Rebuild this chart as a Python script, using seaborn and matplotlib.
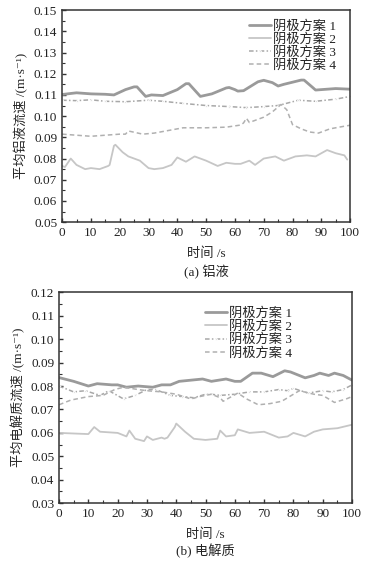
import matplotlib
matplotlib.use("Agg")
import matplotlib.pyplot as plt
import seaborn as sns
from matplotlib.ticker import MultipleLocator, FormatStrFormatter

# (a) 铝液 - average aluminium flow velocity
a1_t = [0, 5, 10, 15, 18, 22, 25, 26, 29, 31, 35, 40, 43, 44, 48, 52, 57, 58, 60, 61, 63, 68, 70, 73, 75, 77, 80, 83, 84, 87, 88, 92, 95, 100]
a1_v = [0.1102, 0.111, 0.1105, 0.1103, 0.110, 0.1125, 0.1138, 0.1138, 0.1093, 0.110, 0.1097, 0.1125, 0.1153, 0.1153, 0.1093, 0.1105, 0.1133, 0.1135, 0.1125, 0.1118, 0.112, 0.1162, 0.1169, 0.1158, 0.1142, 0.115, 0.116, 0.117, 0.117, 0.1135, 0.1123, 0.1127, 0.113, 0.1127]

a2_t = [0, 1, 3, 5, 8, 10, 13, 16, 16.5, 18, 18.5, 21, 23, 27, 30, 32, 35, 38, 40, 43, 46, 50, 54, 57, 60, 62, 65, 67, 70, 74, 77, 81, 85, 88, 92, 95, 98, 99]
a2_v = [0.0765, 0.076, 0.080, 0.077, 0.075, 0.0755, 0.075, 0.0765, 0.077, 0.086, 0.0865, 0.083, 0.081, 0.079, 0.0755, 0.075, 0.0755, 0.077, 0.0805, 0.0785, 0.081, 0.079, 0.0765, 0.078, 0.0775, 0.0775, 0.079, 0.077, 0.080, 0.081, 0.079, 0.081, 0.0815, 0.081, 0.084, 0.0825, 0.0815, 0.0795]

a3_t = [0, 5, 10, 15, 22, 30, 35, 42, 50, 58, 64, 70, 75, 82, 88, 95, 100]
a3_v = [0.1075, 0.1073, 0.1077, 0.107, 0.1068, 0.1075, 0.107, 0.106, 0.105, 0.1045, 0.104, 0.1045, 0.105, 0.1075, 0.107, 0.108, 0.1093]

a4_t = [0, 5, 10, 15, 20, 22, 23, 28, 32, 36, 42, 50, 57, 62, 63, 64, 65, 70, 73, 76, 78, 80, 83, 86, 89, 93, 97, 100]
a4_v = [0.0915, 0.091, 0.0905, 0.091, 0.0915, 0.0915, 0.093, 0.0915, 0.092, 0.093, 0.0945, 0.0945, 0.0948, 0.0958, 0.0968, 0.099, 0.097, 0.0995, 0.102, 0.1055, 0.103, 0.096, 0.094, 0.0925, 0.092, 0.094, 0.095, 0.0957]

# (b) 电解质 - average electrolyte flow velocity
b1_t = [0, 5, 10, 13, 18, 20, 23, 27, 32, 35, 38, 41, 45, 49, 52, 57, 60, 62, 66, 69, 73, 77, 79, 84, 87, 89, 92, 94, 97, 100]
b1_v = [0.0836, 0.082, 0.080, 0.081, 0.0805, 0.0805, 0.0795, 0.080, 0.0795, 0.0805, 0.0805, 0.082, 0.0825, 0.083, 0.082, 0.083, 0.082, 0.082, 0.0855, 0.0855, 0.084, 0.0865, 0.086, 0.0835, 0.0845, 0.0855, 0.0845, 0.0855, 0.0845, 0.0825]

b2_t = [0, 10, 12, 14, 20, 23, 24, 26, 29, 30, 32, 35, 36, 37, 39.5, 40, 43, 46, 50, 54, 55, 57, 60, 61, 65, 70, 75, 78, 80, 84, 87, 90, 95, 100]
b2_v = [0.060, 0.0595, 0.0625, 0.0605, 0.060, 0.0585, 0.061, 0.0575, 0.0565, 0.0585, 0.057, 0.058, 0.0575, 0.058, 0.0625, 0.064, 0.0605, 0.0575, 0.057, 0.0575, 0.061, 0.0585, 0.059, 0.0615, 0.060, 0.0605, 0.058, 0.0585, 0.060, 0.0585, 0.0605, 0.0615, 0.062, 0.0635]

b3_t = [0, 5, 9, 14, 17, 22, 26, 30, 33, 38, 42, 46, 50, 52, 55, 60, 65, 70, 75, 78, 80, 85, 90, 93, 97, 100]
b3_v = [0.080, 0.0775, 0.078, 0.076, 0.078, 0.0745, 0.076, 0.0785, 0.0785, 0.076, 0.0755, 0.075, 0.0765, 0.0765, 0.076, 0.0765, 0.0775, 0.0775, 0.0785, 0.078, 0.079, 0.077, 0.078, 0.0775, 0.0785, 0.0805]

b4_t = [0, 4, 10, 15, 19, 22, 27, 30, 35, 40, 45, 48, 52, 55, 56, 61, 64, 68, 72, 76, 80, 82, 87, 90, 94, 98, 100]
b4_v = [0.072, 0.074, 0.0755, 0.076, 0.0785, 0.0795, 0.0785, 0.078, 0.0775, 0.0765, 0.0745, 0.0755, 0.0765, 0.075, 0.0735, 0.077, 0.0745, 0.072, 0.0725, 0.0735, 0.0765, 0.078, 0.0765, 0.076, 0.073, 0.0745, 0.0755]

labels = ["阴极方案 1", "阴极方案 2", "阴极方案 3", "阴极方案 4"]

sns.set_style("ticks")
plt.rcParams["font.family"] = ["Liberation Serif", "Noto Sans CJK SC", "DejaVu Sans"]
plt.rcParams["xtick.direction"] = "in"
plt.rcParams["ytick.direction"] = "in"
plt.rcParams["axes.edgecolor"] = "#333333"
plt.rcParams["text.color"] = "#222222"

styles = [
    dict(color="#9a9a9a", lw=2.0, ls="-"),
    dict(color="#c6c6c6", lw=1.3, ls="-"),
    dict(color="#a8a8a8", lw=1.1, ls=(0, (3, 1.5, 1, 1.5)), marker=".", markersize=2.5),
    dict(color="#b0b0b0", lw=1.1, ls=(0, (3, 2))),
]

fig = plt.figure(figsize=(3.81, 5.61), dpi=100, facecolor="white")


def draw(ax, series, ylo, yhi, ylabel, caption, legend_anchor):
    for (t, v), lab, st in zip(series, labels, styles):
        sns.lineplot(x=t, y=v, ax=ax, label=lab, estimator=None, sort=False, **st)
    ax.set_xlim(0, 100)
    ax.set_ylim(ylo, yhi)
    ax.xaxis.set_major_locator(MultipleLocator(10))
    ax.xaxis.set_minor_locator(MultipleLocator(5))
    ax.yaxis.set_major_locator(MultipleLocator(0.01))
    ax.yaxis.set_minor_locator(MultipleLocator(0.005))
    ax.yaxis.set_major_formatter(FormatStrFormatter("%.2f"))
    ax.tick_params(which="major", length=3, width=1, labelsize=9.5, pad=3.5, colors="#333333", labelcolor="#222222")
    ax.tick_params(which="minor", length=2, width=0.8, colors="#333333")
    for s in ax.spines.values():
        s.set_visible(True)
        s.set_linewidth(1.1)
    ax.set_ylabel(ylabel, fontsize=9.5, labelpad=4)
    ax.set_xlabel("时间 /s", fontsize=9.5, labelpad=6)
    ax.text(0.5, caption[0], caption[1], transform=ax.transAxes, ha="center", va="center", fontsize=9.5)
    ax.legend(loc="upper left", bbox_to_anchor=legend_anchor, frameon=False, fontsize=9.5,
              handlelength=1.7, handletextpad=0.15, labelspacing=0.05, borderpad=0)


ax1 = fig.add_axes([0.163, 0.604, 0.756, 0.378])
draw(ax1, [(a1_t, a1_v), (a2_t, a2_v), (a3_t, a3_v), (a4_t, a4_v)],
     0.05, 0.15, "平均铝液流速 /(m·s⁻¹)", (-0.235, "(a) 铝液"), (0.625, 0.985))

ax2 = fig.add_axes([0.155, 0.103, 0.769, 0.376])
draw(ax2, [(b1_t, b1_v), (b2_t, b2_v), (b3_t, b3_v), (b4_t, b4_v)],
     0.03, 0.12, "平均电解质流速 /(m·s⁻¹)", (-0.225, "(b) 电解质"), (0.475, 0.96))

fig.savefig("out.png", dpi=100, facecolor="white")
